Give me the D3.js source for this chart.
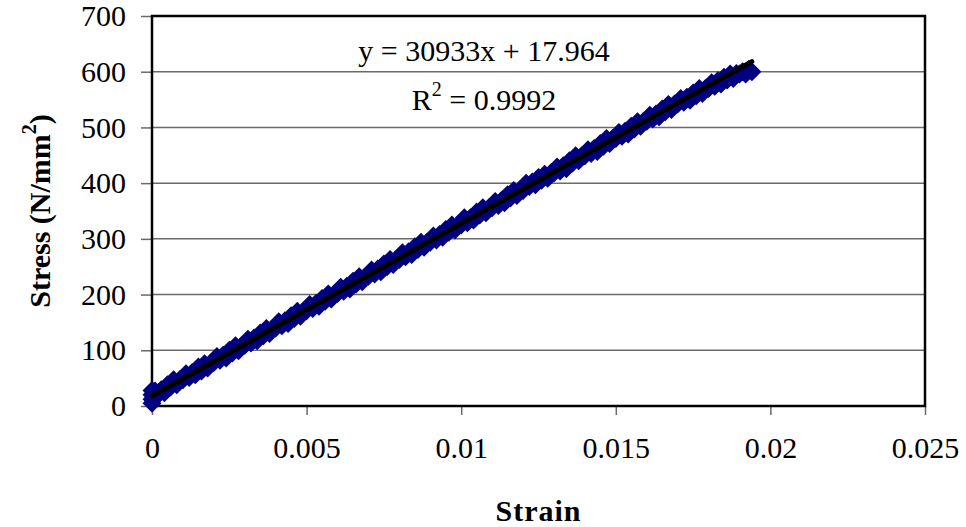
<!DOCTYPE html>
<html>
<head>
<meta charset="utf-8">
<script src="https://cdn.jsdelivr.net/npm/d3@7"></script>
<style>
  body { margin: 0; background: #fff; }
  svg text { font-family: "Liberation Serif", "Times New Roman", Times, "Nimbus Roman", "DejaVu Serif", serif !important; }
</style>
</head>
<body>
<div id="chart"></div>
<script>
// values
const strain = [0, 0, 0, 0,
  0.0001, 0.0002, 0.0003, 0.0004, 0.0005, 0.0006, 0.0007, 0.0008, 0.0009, 0.0010,
  0.0011, 0.0012, 0.0013, 0.0014, 0.0015, 0.0016, 0.0017, 0.0018, 0.0019, 0.0020,
  0.0021, 0.0022, 0.0023, 0.0024, 0.0025, 0.0026, 0.0027, 0.0028, 0.0029, 0.0030,
  0.0031, 0.0032, 0.0033, 0.0034, 0.0035, 0.0036, 0.0037, 0.0038, 0.0039, 0.0040,
  0.0041, 0.0042, 0.0043, 0.0044, 0.0045, 0.0046, 0.0047, 0.0048, 0.0049, 0.0050,
  0.0051, 0.0052, 0.0053, 0.0054, 0.0055, 0.0056, 0.0057, 0.0058, 0.0059, 0.0060,
  0.0061, 0.0062, 0.0063, 0.0064, 0.0065, 0.0066, 0.0067, 0.0068, 0.0069, 0.0070,
  0.0071, 0.0072, 0.0073, 0.0074, 0.0075, 0.0076, 0.0077, 0.0078, 0.0079, 0.0080,
  0.0081, 0.0082, 0.0083, 0.0084, 0.0085, 0.0086, 0.0087, 0.0088, 0.0089, 0.0090,
  0.0091, 0.0092, 0.0093, 0.0094, 0.0095, 0.0096, 0.0097, 0.0098, 0.0099, 0.0100,
  0.0101, 0.0102, 0.0103, 0.0104, 0.0105, 0.0106, 0.0107, 0.0108, 0.0109, 0.0110,
  0.0111, 0.0112, 0.0113, 0.0114, 0.0115, 0.0116, 0.0117, 0.0118, 0.0119, 0.0120,
  0.0121, 0.0122, 0.0123, 0.0124, 0.0125, 0.0126, 0.0127, 0.0128, 0.0129, 0.0130,
  0.0131, 0.0132, 0.0133, 0.0134, 0.0135, 0.0136, 0.0137, 0.0138, 0.0139, 0.0140,
  0.0141, 0.0142, 0.0143, 0.0144, 0.0145, 0.0146, 0.0147, 0.0148, 0.0149, 0.0150,
  0.0151, 0.0152, 0.0153, 0.0154, 0.0155, 0.0156, 0.0157, 0.0158, 0.0159, 0.0160,
  0.0161, 0.0162, 0.0163, 0.0164, 0.0165, 0.0166, 0.0167, 0.0168, 0.0169, 0.0170,
  0.0171, 0.0172, 0.0173, 0.0174, 0.0175, 0.0176, 0.0177, 0.0178, 0.0179, 0.0180,
  0.0181, 0.0182, 0.0183, 0.0184, 0.0185, 0.0186, 0.0187, 0.0188, 0.0189, 0.0190,
  0.0191, 0.0192, 0.0193, 0.0194];
const stress = [5, 12, 20, 28,
  27, 20, 29, 24, 38, 34, 47, 38, 47, 47,
  58, 51, 60, 56, 70, 63, 76, 68, 77, 78,
  89, 82, 91, 86, 100, 95, 108, 99, 108, 109,
  120, 113, 122, 117, 131, 126, 139, 130, 139, 140,
  151, 144, 153, 148, 162, 157, 170, 161, 170, 171,
  182, 175, 184, 179, 193, 188, 201, 192, 201, 202,
  213, 206, 215, 210, 224, 219, 232, 223, 232, 233,
  244, 237, 246, 241, 255, 250, 263, 254, 263, 263,
  275, 268, 277, 272, 286, 281, 294, 285, 294, 294,
  305, 298, 308, 303, 317, 312, 325, 316, 325, 325,
  338, 329, 338, 334, 348, 343, 356, 347, 356, 356,
  367, 360, 369, 365, 379, 374, 387, 378, 387, 387,
  400, 394, 402, 397, 410, 405, 416, 409, 418, 418,
  429, 422, 431, 426, 440, 436, 449, 440, 449, 449,
  460, 453, 462, 457, 471, 466, 480, 471, 480, 480,
  491, 484, 493, 488, 502, 497, 510, 502, 511, 511,
  522, 515, 524, 519, 533, 528, 541, 532, 542, 542,
  552, 545, 554, 549, 562, 557, 570, 561, 570, 570,
  580, 574, 584, 578, 590, 585, 596, 588, 597, 596,
  600, 596, 604, 600];

// linear trendline as printed on the chart
const trendSlope = 30933;
const trendIntercept = 17.964;
const trendRange = [0, 0.0194];
const rSquared = "0.9992";

const xTicks = [0, 0.005, 0.01, 0.015, 0.02, 0.025];
const yTicks = [0, 100, 200, 300, 400, 500, 600, 700];

const W = 966, H = 527;
const m = { left: 152, right: 41, top: 16, bottom: 121 };

const svg = d3.select("#chart").append("svg")
  .attr("width", W).attr("height", H);

const x = d3.scaleLinear().domain([0, 0.025]).range([m.left, W - m.right]);
const y = d3.scaleLinear().domain([0, 700]).range([H - m.bottom, m.top]);

// gridlines
svg.append("g").selectAll("line")
  .data(yTicks.slice(1))
  .join("line")
  .attr("x1", m.left).attr("x2", W - m.right)
  .attr("y1", d => y(d)).attr("y2", d => y(d))
  .attr("stroke", "#6a6a6a").attr("stroke-width", 1.5);

// y axis
const yAxis = svg.append("g")
  .attr("transform", `translate(${m.left},0)`)
  .call(d3.axisLeft(y).tickValues(yTicks).tickSize(11).tickPadding(15).tickFormat(d3.format("d")));
yAxis.attr("font-family", null);
yAxis.select(".domain").remove();
yAxis.selectAll(".tick line").attr("stroke", "#6a6a6a").attr("stroke-width", 1.5);
yAxis.selectAll(".tick text").attr("font-size", 30).attr("fill", "#000");

// x axis
const xAxis = svg.append("g")
  .attr("transform", `translate(0,${H - m.bottom})`)
  .call(d3.axisBottom(x).tickValues(xTicks).tickSize(9).tickPadding(22)
    .tickFormat(d => d === 0 ? "0" : String(+d.toFixed(3))));
xAxis.attr("font-family", null);
xAxis.select(".domain").remove();
xAxis.selectAll(".tick line").attr("stroke", "#6a6a6a").attr("stroke-width", 1.5);
xAxis.selectAll(".tick text").attr("font-size", 30).attr("fill", "#000");

// plot frame
svg.append("rect")
  .attr("x", m.left).attr("y", m.top)
  .attr("width", W - m.left - m.right).attr("height", H - m.top - m.bottom)
  .attr("fill", "none").attr("stroke", "#000").attr("stroke-width", 2.5);

// diamond markers
const points = strain.map((s, i) => ({ s, v: stress[i] }));
svg.append("g").selectAll("path")
  .data(points)
  .join("path")
  .attr("transform", d => `translate(${x(d.s)},${y(d.v)})`)
  .attr("d", "M0,-9.5L9.5,0L0,9.5L-9.5,0Z")
  .attr("fill", "#000080");

// trendline
const line = d3.line().x(d => x(d)).y(d => y(trendSlope * d + trendIntercept));
svg.append("path")
  .attr("d", line(trendRange))
  .attr("fill", "none").attr("stroke", "#000")
  .attr("stroke-width", 5).attr("stroke-linecap", "round");

// equation labels
svg.append("text")
  .attr("x", 484).attr("y", 61)
  .attr("text-anchor", "middle").attr("font-size", 30)
  .text(`y = ${trendSlope}x + ${trendIntercept}`);

const r2 = svg.append("text")
  .attr("x", 484).attr("y", 110)
  .attr("text-anchor", "middle").attr("font-size", 30);
r2.append("tspan").text("R");
r2.append("tspan").attr("font-size", 20).attr("dy", -14).text("2");
r2.append("tspan").attr("dy", 14).text(` = ${rSquared}`);

// axis titles
svg.append("text")
  .attr("x", (m.left + W - m.right) / 2).attr("y", 521)
  .attr("text-anchor", "middle").attr("font-size", 30).attr("font-weight", "bold")
  .attr("letter-spacing", 1)
  .text("Strain");

const yt = svg.append("text")
  .attr("transform", `translate(50,${(m.top + H - m.bottom) / 2}) rotate(-90)`)
  .attr("text-anchor", "middle").attr("font-size", 30).attr("font-weight", "bold");
yt.append("tspan").text("Stress (N/mm");
yt.append("tspan").attr("font-size", 20).attr("dy", -14).text("2");
yt.append("tspan").attr("dy", 14).text(")");
</script>
</body>
</html>
